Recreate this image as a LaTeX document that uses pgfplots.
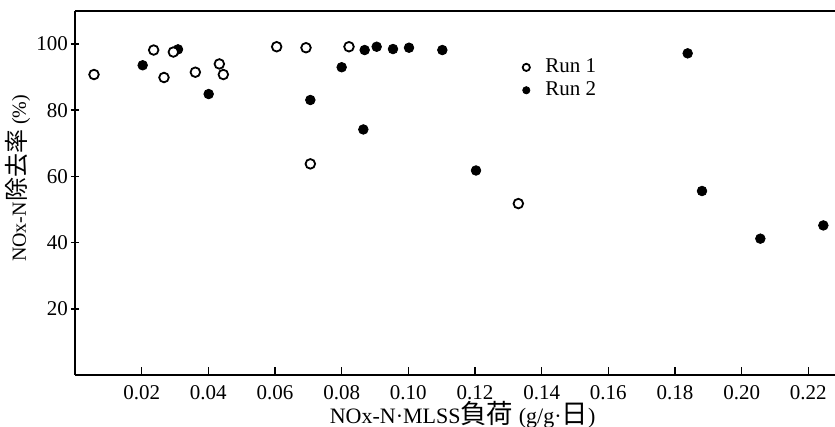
\documentclass[border=0pt]{standalone}
\usepackage{fontspec}
\setmainfont{Liberation Serif}
\newfontfamily\cjk[Scale=1.2]{Noto Sans CJK JP}
\usepackage{pgfplots}
\pgfplotsset{compat=1.18}

% scanned scatter: NOx-N removal vs load, two runs
\begin{document}
\begin{tikzpicture}
\begin{axis}[
    name=ax,
    scale only axis,
    width=380pt, height=182pt,
    xmin=0, xmax=0.228, ymin=0, ymax=110,
    axis x line=box, axis y line=left,
    axis line style={-, line width=1.2pt},
    xtick={0.02,0.04,...,0.22}, ytick={20,40,...,100},
    xtick pos=lower, ytick pos=left,
    tick style={black, line width=0.8pt, major tick length=4pt},
    xticklabel style={yshift=-1.5pt, /pgf/number format/.cd, fixed, fixed zerofill, precision=2},
    yticklabel style={xshift=2pt},
    /pgf/number format/assume math mode=true,
    tick label style={font=\fontsize{10.5}{11}\selectfont},
    xlabel={NOx-N·MLSS{\cjk 負荷} (g/g·{\cjk 日})},
    ylabel={NOx-N{\cjk 除去率} (\%)},
    every axis x label/.style={at={([yshift=-20pt]axis description cs:0.51,0)}, anchor=center, font=\fontsize{11}{12}\selectfont},
    every axis y label/.style={at={([xshift=-28.5pt]axis description cs:0,0.54)}, rotate=90, anchor=center, font=\fontsize{10}{11}\selectfont},
    reverse legend,
    legend style={draw=none, fill=none, at={(axis cs:0.1292,89.5)}, anchor=west,
                  font=\fontsize{10.5}{11}\selectfont, row sep=-1pt},
    legend image code/.code={\path[draw=none, fill=none] (0cm,0cm) (0.375cm,0cm);
      \draw[mark repeat=2, mark phase=2, #1, mark size=1.8pt] plot coordinates {(0cm,0cm) (0.25cm,0cm) (0.375cm,0cm)};},
]
% Run 2 (filled)
\addplot[only marks, mark=*, mark size=2.4pt, black] coordinates {
  (0.0203,93.6) (0.0309,98.4) (0.0401,84.9) (0.0706,83.1) (0.0800,93.0) (0.0865,74.2)
  (0.0869,98.2) (0.0905,99.2) (0.0954,98.5) (0.1002,98.9) (0.1102,98.2) (0.1203,61.8)
  (0.1838,97.2) (0.1881,55.6) (0.2056,41.2) (0.2245,45.2)};
\addlegendentry{\hspace{4pt}Run 2}
% Run 1 (open)
\addplot[only marks, mark=*, mark size=2.4pt, draw=black, fill=white, mark options={line width=0.9pt}] coordinates {
  (0.0057,90.8) (0.0236,98.2) (0.0267,89.9) (0.0295,97.6) (0.0361,91.5) (0.0433,94.0)
  (0.0445,90.8) (0.0605,99.2) (0.0693,98.9) (0.0706,63.8) (0.0822,99.2) (0.1330,51.8)};
\addlegendentry{\hspace{4pt}Run 1}
\end{axis}
\pgfresetboundingbox
\path[use as bounding box] ([xshift=-37.5pt, yshift=-26pt]ax.south west) rectangle ([yshift=5.5pt]ax.north east);
\end{tikzpicture}
\end{document}
